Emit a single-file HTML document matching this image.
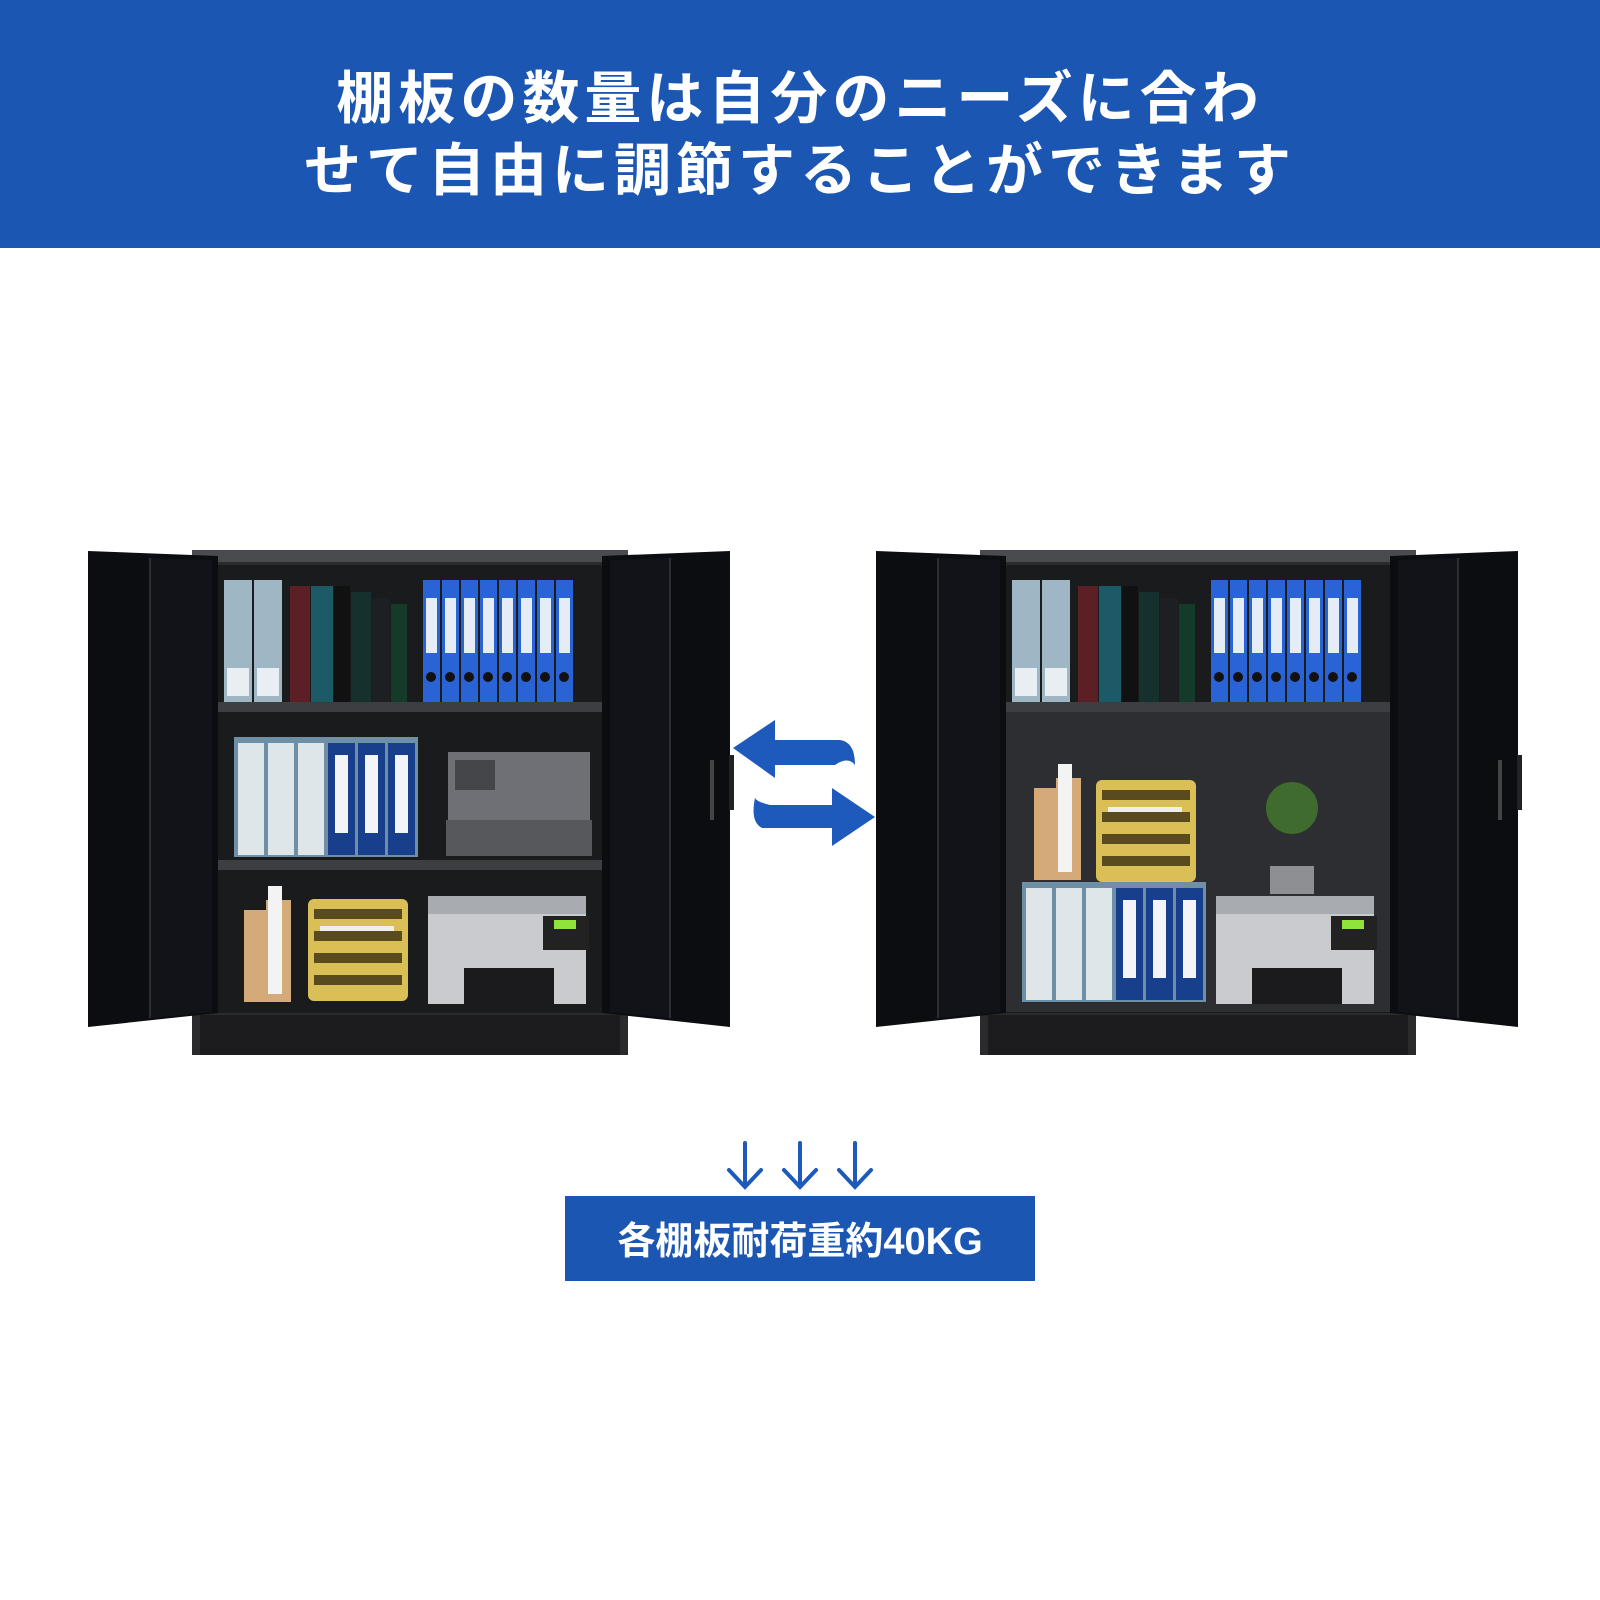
<!DOCTYPE html>
<html><head><meta charset="utf-8"><style>
body{margin:0;width:1600px;height:1600px;background:#fff;position:relative;overflow:hidden;font-family:"Liberation Sans","Noto Sans CJK JP",sans-serif}
.a{position:absolute}
.hdr{left:0;top:0;width:1600px;height:248px;background:#1b56b3;color:#fff;font-size:57px;font-weight:bold;letter-spacing:5px;line-height:74px;text-align:center}
.hdr div{position:absolute;left:0;width:1600px}
</style></head><body>
<div class="a hdr"><div style="top:62px">棚板の数量は自分のニーズに合わ</div><div style="top:134px">せて自由に調節することができます</div></div>

<svg class="a" style="left:0;top:0" width="1600" height="1600">
<defs>
<g id="cab">
 <rect x="192" y="550" width="436" height="505" fill="#2a2b2d"/>
 <rect x="192" y="550" width="436" height="12" fill="#4a4b4e"/>
 <rect x="218" y="565" width="384" height="448" fill="#1a1b1d"/>
 <rect x="200" y="1015" width="420" height="40" fill="#1c1c1e"/>
 <polygon points="88,551 218,556 218,1013 88,1027" fill="#0c0d10"/>
 <polygon points="150,558 212,560 212,1012 150,1018" fill="#111318"/>
 <line x1="150" y1="558" x2="150" y2="1018" stroke="#2c2e33" stroke-width="2"/>
 <polygon points="602,556 730,551 730,1027 602,1013" fill="#0c0d10"/>
 <polygon points="610,560 670,558 670,1018 610,1012" fill="#111318"/>
 <line x1="670" y1="558" x2="670" y2="1018" stroke="#2c2e33" stroke-width="2"/>
 <rect x="710" y="760" width="4" height="60" fill="#444"/>
 <rect x="729" y="755" width="5" height="55" fill="#222"/>
 <rect x="224" y="580" width="28" height="122" fill="#9fb6c4"/>
 <rect x="254" y="580" width="28" height="122" fill="#9fb6c4"/>
 <rect x="227" y="668" width="22" height="28" fill="#e8eef2"/>
 <rect x="257" y="668" width="22" height="28" fill="#e8eef2"/>
 <rect x="290" y="586" width="20" height="116" fill="#5b1f25"/>
 <rect x="311" y="586" width="22" height="116" fill="#1d5a68"/>
 <rect x="334" y="586" width="16" height="116" fill="#111"/>
 <rect x="351" y="592" width="20" height="110" fill="#16302e"/>
 <rect x="372" y="598" width="18" height="104" fill="#1d1f22"/>
 <rect x="391" y="604" width="16" height="98" fill="#143a2a"/>
 <g fill="#2a63d6">
  <rect x="423" y="580" width="17" height="122"/><rect x="442" y="580" width="17" height="122"/><rect x="461" y="580" width="17" height="122"/><rect x="480" y="580" width="17" height="122"/><rect x="499" y="580" width="17" height="122"/><rect x="518" y="580" width="17" height="122"/><rect x="537" y="580" width="17" height="122"/><rect x="556" y="580" width="17" height="122"/>
 </g>
 <g fill="#e6ecf5">
  <rect x="426" y="598" width="11" height="55"/><rect x="445" y="598" width="11" height="55"/><rect x="464" y="598" width="11" height="55"/><rect x="483" y="598" width="11" height="55"/><rect x="502" y="598" width="11" height="55"/><rect x="521" y="598" width="11" height="55"/><rect x="540" y="598" width="11" height="55"/><rect x="559" y="598" width="11" height="55"/>
 </g>
 <g fill="#111">
  <circle cx="431" cy="677" r="5"/><circle cx="450" cy="677" r="5"/><circle cx="469" cy="677" r="5"/><circle cx="488" cy="677" r="5"/><circle cx="507" cy="677" r="5"/><circle cx="526" cy="677" r="5"/><circle cx="545" cy="677" r="5"/><circle cx="564" cy="677" r="5"/>
 </g>
 <rect x="218" y="702" width="384" height="10" fill="#3d3e41"/>
</g>
<g id="files">
 <rect x="0" y="0" width="184" height="120" fill="#6f8fa6"/>
 <rect x="4" y="6" width="26" height="112" fill="#dfe6ea"/><rect x="34" y="6" width="26" height="112" fill="#dfe6ea"/><rect x="64" y="6" width="26" height="112" fill="#dfe6ea"/>
 <rect x="94" y="6" width="27" height="112" fill="#173f8c"/><rect x="124" y="6" width="27" height="112" fill="#173f8c"/><rect x="154" y="6" width="27" height="112" fill="#173f8c"/>
 <rect x="101" y="18" width="13" height="78" fill="#f2f4f8"/><rect x="131" y="18" width="13" height="78" fill="#f2f4f8"/><rect x="161" y="18" width="13" height="78" fill="#f2f4f8"/>
</g>
<g id="printer">
 <rect x="0" y="0" width="158" height="22" fill="#a8abb0"/>
 <rect x="0" y="18" width="158" height="90" fill="#c9cbcf"/>
 <rect x="115" y="20" width="46" height="34" fill="#222"/>
 <rect x="126" y="24" width="22" height="9" fill="#8fe33a"/>
 <rect x="36" y="72" width="90" height="36" fill="#1b1b1d"/>
</g>
<g id="tray">
 <rect x="0" y="0" width="100" height="102" rx="6" fill="#d9bf55"/>
 <g fill="#5a4b1e"><rect x="6" y="10" width="88" height="10"/><rect x="6" y="32" width="88" height="10"/><rect x="6" y="54" width="88" height="10"/><rect x="6" y="76" width="88" height="10"/></g>
 <rect x="12" y="27" width="74" height="5" fill="#eee"/>
</g>
<g id="mag">
 <polygon points="0,10 22,10 22,0 47,0 47,102 0,102" fill="#d4aa78"/>
 <rect x="24" y="-14" width="14" height="108" fill="#f3f3f3"/>
</g>
</defs>

<use href="#cab"/>
<rect x="218" y="860" width="384" height="10" fill="#3d3e41"/>
<use href="#files" x="234" y="737"/>
<rect x="448" y="752" width="142" height="104" fill="#6e7075"/>
<rect x="455" y="760" width="40" height="30" fill="#454649"/>
<rect x="446" y="820" width="146" height="36" fill="#56585c"/>
<use href="#mag" x="244" y="900"/>
<use href="#tray" x="308" y="899"/>
<use href="#printer" x="428" y="896"/>

<use href="#cab" x="788"/>
<rect x="1006" y="712" width="384" height="300" fill="#2d2e31"/>
<use href="#mag" x="1034" y="778"/>
<use href="#tray" x="1096" y="780"/>
<circle cx="1292" cy="808" r="26" fill="#3f6b2e"/>
<rect x="1270" y="866" width="44" height="28" fill="#8d8f92"/>
<use href="#files" x="1022" y="882"/>
<use href="#printer" x="1216" y="896"/>

<path d="M733,748 L775,720 L775,740 L840,740 Q855,742 855,765 Q848,756 835,765 L775,765 L775,778 Z" fill="#1d5abb"/>
<path d="M875,817 L832,788 L832,805 L770,805 Q757,802 755,798 Q750,822 762,828 L832,828 L832,846 Z" fill="#1d5abb"/>

<g stroke="#1d5abb" stroke-width="4" fill="none" stroke-linecap="round">
<path d="M745,1143 V1186 M729,1170 L745,1187 L761,1170"/>
<path d="M800,1143 V1186 M784,1170 L800,1187 L816,1170"/>
<path d="M855,1143 V1186 M839,1170 L855,1187 L871,1170"/>
</g>
<rect x="565" y="1196" width="470" height="85" fill="#1b56b3"/>
<text x="800" y="1254" text-anchor="middle" fill="#fff" font-size="38" font-weight="bold" font-family="Liberation Sans, Noto Sans CJK JP, sans-serif">各棚板耐荷重約40KG</text>
</svg>
</body></html>
